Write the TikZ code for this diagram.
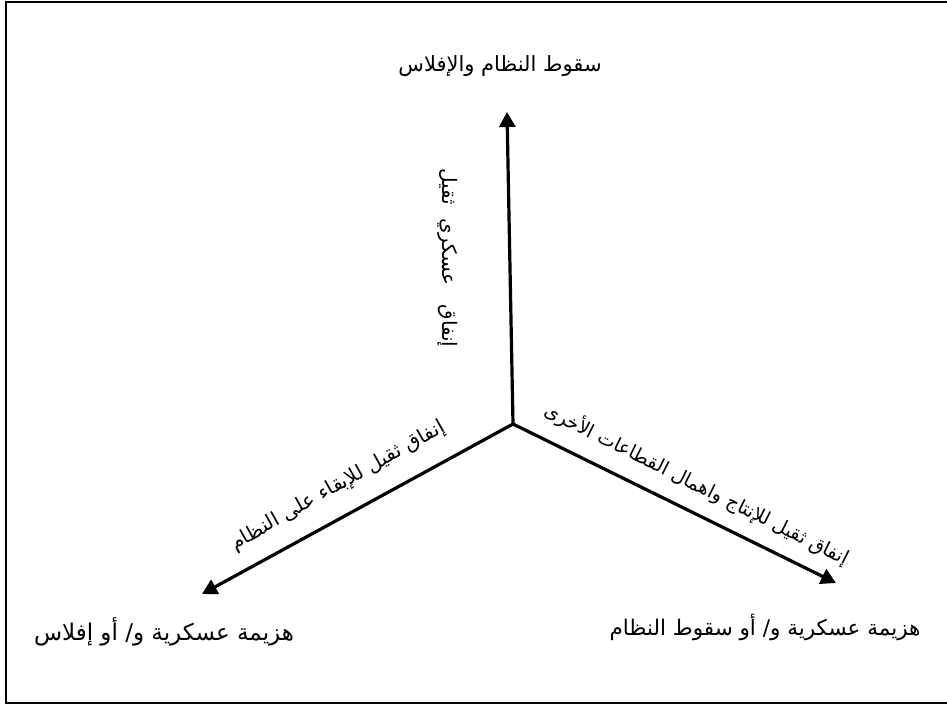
\documentclass[tikz,border=0pt]{standalone}
\usepackage{fontspec}
\TeXXeTstate=1
\newfontfamily\arabicfont[Script=Arabic]{DejaVu Sans}
\usetikzlibrary{arrows.meta}
\begin{document}
\begin{tikzpicture}[x=1pt,y=-1pt,
  arr/.style={line width=3.2pt,-{Triangle[length=15pt,width=16pt]}},
  lbl/.style={font=\arabicfont\fontsize{20}{24}\selectfont, inner sep=0pt}]
\useasboundingbox (0,0) rectangle (947,704);
\draw[line width=2pt] (947,1.5) -- (6,1.5) -- (6,702.5) -- (947,702.5);
\coordinate (c) at (513,424);
\coordinate (t) at (507,112);
\coordinate (l) at (202,594);
\coordinate (r) at (836,583);
\draw[arr] (c) -- (t);
\draw[arr] (c) -- (l);
\draw[arr] (c) -- (r);
\node[lbl, font=\arabicfont\fontsize{21}{24}\selectfont] (top) at (500,66) {\beginR سقوط النظام والإفلاس\endR};
\node[lbl, font=\arabicfont\fontsize{23}{26}\selectfont] (left) at (164,632) {\beginR هزيمة عسكرية و/ أو إفلاس\endR};
\node[lbl, font=\arabicfont\fontsize{21.5}{26}\selectfont] (right) at (765,627) {\beginR هزيمة عسكرية و/ أو سقوط النظام\endR};
\node[lbl, rotate=-90] (v) at (448,258) {\beginR إنفاق \ \ عسكري \ ثقيل\endR};
\node[lbl, rotate=29.5] (dl) at (338,486) {\beginR إنفاق ثقيل للإبقاء على النظام\endR};
\node[lbl, font=\arabicfont\fontsize{19}{22}\selectfont, rotate=-26.5] (dr) at (697,484) {\beginR إنفاق ثقيل للإنتاج واهمال القطاعات الأخرى\endR};
\end{tikzpicture}
\end{document}
